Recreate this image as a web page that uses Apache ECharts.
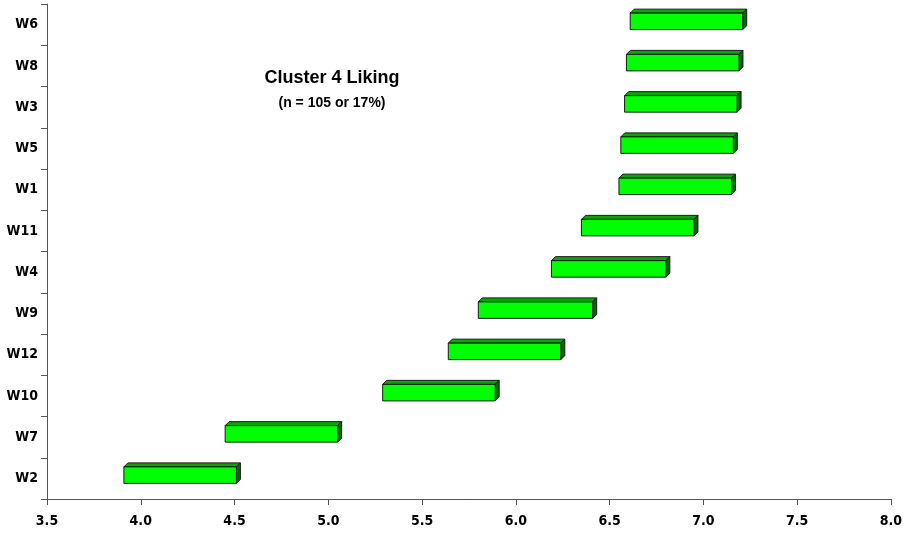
<!DOCTYPE html>
<html>
<head>
<meta charset="utf-8">
<script src="https://cdn.jsdelivr.net/npm/echarts@6/dist/echarts.min.js"></script>
<style>
  html, body { margin: 0; padding: 0; background: #ffffff; }
  #chart { width: 905px; height: 540px; }
</style>
</head>
<body>
<div id="chart"></div>
<script>
// Liking ranges per sample, bottom to top
const categories = ['W2', 'W7', 'W10', 'W12', 'W9', 'W4', 'W11', 'W1', 'W5', 'W3', 'W8', 'W6'];
const lowValues  = [3.91, 4.45, 5.29, 5.64, 5.80, 6.19, 6.35, 6.55, 6.56, 6.58, 6.59, 6.61];
const highValues = [4.51, 5.05, 5.89, 6.24, 6.41, 6.80, 6.95, 7.15, 7.16, 7.18, 7.19, 7.21];
const xTicks = ['3.5', '4.0', '4.5', '5.0', '5.5', '6.0', '6.5', '7.0', '7.5', '8.0'];

const narrow = "'Liberation Sans Narrow', 'Arial Narrow', 'DejaVu Sans Condensed', sans-serif";
const regular = "'Liberation Sans', Arial, sans-serif";

const seriesData = categories.map((c, i) => [lowValues[i], highValues[i], i]);

// Box drawn as a front face with a top and right face for depth
function renderBox(params, api) {
  const idx = api.value(2);
  const p0 = api.coord([api.value(0), idx]);
  const p1 = api.coord([api.value(1), idx]);
  const x0 = p0[0], x1 = p1[0];
  const yTop = p0[1] - 11.5, yBot = p0[1] + 5;
  const d = 4;
  const line = { stroke: '#1a1a1a', lineWidth: 1, lineJoin: 'round' };
  return {
    type: 'group',
    children: [
      {
        type: 'polygon',
        shape: { points: [[x0, yTop], [x0 + d, yTop - d], [x1 + d, yTop - d], [x1, yTop]] },
        style: Object.assign({ fill: '#00a800' }, line)
      },
      {
        type: 'polygon',
        shape: { points: [[x1, yTop], [x1 + d, yTop - d], [x1 + d, yBot - d], [x1, yBot]] },
        style: Object.assign({ fill: '#006e00' }, line)
      },
      {
        type: 'rect',
        shape: { x: x0, y: yTop, width: x1 - x0, height: yBot - yTop },
        style: Object.assign({ fill: '#00ff00' }, line)
      }
    ]
  };
}

const chart = echarts.init(document.getElementById('chart'), null, { renderer: 'canvas' });
chart.setOption({
  animation: false,
  backgroundColor: '#ffffff',
  title: {
    text: 'Cluster 4 Liking',
    subtext: '(n = 105 or 17%)',
    left: 327,
    top: 64,
    textAlign: 'center',
    itemGap: 9,
    textStyle: { fontFamily: regular, fontWeight: 'bold', fontSize: 18, color: '#000' },
    subtextStyle: { fontFamily: regular, fontWeight: 'bold', fontSize: 14, color: '#000' }
  },
  grid: { left: 47, right: 12, top: 4, bottom: 41, containLabel: false },
  xAxis: {
    type: 'value',
    min: 3.5,
    max: 8.0,
    interval: 0.5,
    axisLine: { show: true, lineStyle: { color: '#555', width: 1 } },
    axisTick: { show: true, length: 6, lineStyle: { color: '#555' } },
    splitLine: { show: false },
    axisLabel: {
      margin: 15,
      fontFamily: narrow,
      fontWeight: 'bold',
      fontSize: 14,
      color: '#000',
      formatter: (v) => xTicks[Math.round((v - 3.5) / 0.5)]
    }
  },
  yAxis: {
    type: 'category',
    data: categories,
    boundaryGap: true,
    axisLine: { show: true, lineStyle: { color: '#555', width: 1 } },
    axisTick: { show: true, length: 6, alignWithLabel: false, lineStyle: { color: '#555' } },
    splitLine: { show: false },
    axisLabel: {
      margin: 9,
      fontFamily: narrow,
      fontWeight: 'bold',
      fontSize: 14,
      color: '#000'
    }
  },
  series: [{
    type: 'custom',
    renderItem: renderBox,
    encode: { x: [0, 1], y: 2 },
    data: seriesData,
    clip: false
  }]
});
</script>
</body>
</html>
